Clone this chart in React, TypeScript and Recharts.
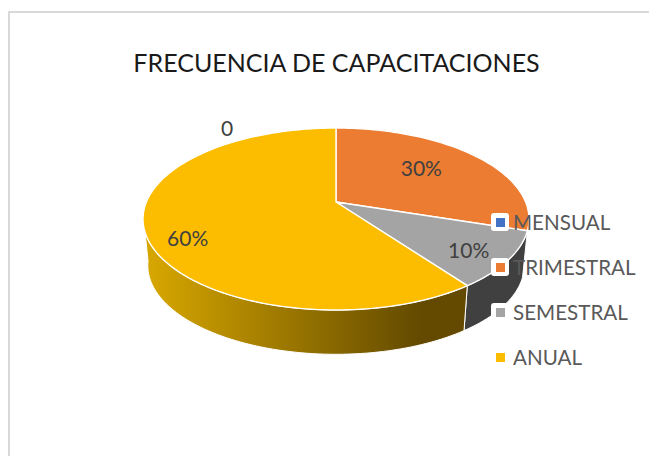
import React from "react";
import { PieChart, Pie, Legend } from "recharts";

const categories = ["MENSUAL", "TRIMESTRAL", "SEMESTRAL", "ANUAL"];
const shares = [0, 30, 10, 60];
const topColors = ["#4472C4", "#EC7C31", "#A4A4A4", "#FCBD00"];
const sideColors = ["#2F528F", "#A0521E", "#404040", "url(#anualSide)"];
const chartTitle = "FRECUENCIA DE CAPACITACIONES";

const topRows = categories.map((name, i) => ({ name, value: shares[i], fill: topColors[i] }));
const sideRows = categories.map((name, i) => ({ name, value: shares[i], fill: sideColors[i] }));

const FONT = "Lato, 'Open Sans', sans-serif";
// perspective projection of the pie disc
const RX = 189.6;
const RY = 87.8;
const TILT = 0.187;
const FLOOR_DROP = 47;
const FLOOR_SCALE = 0.975;
const SIDE_FROM = 108;
const SIDE_TO = 262;

const project = (cx: number, cy: number, deg: number, r = 1, k = 1) => {
  const t = (deg * Math.PI) / 180;
  const u = r * Math.sin(t);
  const v = -r * Math.cos(t);
  const d = 1 - TILT * v;
  return [cx + (k * RX * u) / d, cy + (k * RY * v) / d];
};

const arc = (cx: number, cy: number, from: number, to: number, k = 1) => {
  const pts: number[][] = [];
  const n = Math.max(2, Math.ceil(Math.abs(to - from) / 1.5));
  for (let i = 0; i <= n; i++) pts.push(project(cx, cy, from + ((to - from) * i) / n, 1, k));
  return pts;
};

const toPath = (pts: number[][]) =>
  "M" + pts.map((p) => `${p[0].toFixed(2)} ${p[1].toFixed(2)}`).join("L") + "Z";

const TopSlice = (props: any) => {
  const { cx, cy, startAngle, endAngle, fill } = props;
  if (Math.abs(endAngle - startAngle) < 0.01) return <g />;
  const pts = [[cx, cy], ...arc(cx, cy, 90 - startAngle, 90 - endAngle)];
  return <path d={toPath(pts)} fill={fill} stroke="#fff" strokeWidth={1.4} strokeLinejoin="round" />;
};

const SideSlice = (props: any) => {
  const { cx, cy, startAngle, endAngle, fill } = props;
  const from = Math.max(90 - startAngle, SIDE_FROM);
  const to = Math.min(90 - endAngle, SIDE_TO);
  if (to - from < 0.01) return <g />;
  const upper = arc(cx, cy, from, to);
  const lower = arc(cx, cy + FLOOR_DROP, from, to, FLOOR_SCALE).reverse();
  return <path d={toPath([...upper, ...lower])} fill={fill} stroke="#fff" strokeWidth={1} strokeLinejoin="round" />;
};

const labelSpots = [
  { r: 0, dx: -109, dy: -1 },
  { r: 0.6, dx: -1, dy: -5 },
  { r: 0.79, dx: 0, dy: 3 },
  { r: 0.78, dx: -1, dy: 13 },
];

const SliceLabel = (props: any) => {
  const { cx, cy, midAngle, value, index } = props;
  const spot = labelSpots[index];
  const [x, y] = project(cx, cy, 90 - midAngle, spot.r);
  const py = spot.r === 0 ? cy - 74 : y;
  return (
    <text
      x={x + spot.dx}
      y={py + spot.dy}
      textAnchor="middle"
      dominantBaseline="central"
      fontFamily={FONT}
      fontSize={21}
      fill="#404040"
    >
      {value === 0 ? "0" : `${value}%`}
    </text>
  );
};

const LegendBox = () => (
  <div style={{ fontFamily: FONT }}>
    {categories.map((name, i) => (
      <div key={name} style={{ display: "flex", alignItems: "center", height: 45 }}>
        <div
          style={{
            width: 18,
            height: 18,
            background: "#fff",
            borderRadius: 3,
            display: "flex",
            alignItems: "center",
            justifyContent: "center",
            flex: "none",
          }}
        >
          <div style={{ width: 9, height: 9, background: topColors[i] }} />
        </div>
        <span style={{ marginLeft: 4, fontSize: 20.6, color: "#595959", whiteSpace: "nowrap" }}>{name}</span>
      </div>
    ))}
  </div>
);

export default function App() {
  return (
    <div style={{ position: "absolute", left: 0, top: 0, width: 649, height: 456, overflow: "hidden", background: "#fff" }}>
      <div
        style={{
          position: "absolute",
          left: 8,
          top: 11,
          width: 700,
          height: 500,
          border: "2px solid #d9d9d9",
          boxSizing: "border-box",
        }}
      />
      <div style={{ position: "absolute", left: 0, top: 0 }}>
        <PieChart width={649} height={456} margin={{ top: 0, right: 0, bottom: 0, left: 0 }}>
          <defs>
            <linearGradient id="anualSide" gradientUnits="userSpaceOnUse" x1={150} y1={0} x2={420} y2={0}>
              <stop offset="0" stopColor="#D6A600" />
              <stop offset="1" stopColor="#634A00" />
            </linearGradient>
          </defs>
          <text x={336.5} y={61.5} textAnchor="middle" dominantBaseline="central" fontFamily={FONT} fontSize={25} fill="#1a1a1a">
            {chartTitle}
          </text>
          <Pie
            data={sideRows}
            dataKey="value"
            nameKey="name"
            cx={336}
            cy={202}
            outerRadius={100}
            startAngle={90}
            endAngle={-270}
            legendType="none"
            shape={SideSlice}
            label={false}
            labelLine={false}
            isAnimationActive={false}
          />
          <Pie
            data={topRows}
            dataKey="value"
            nameKey="name"
            cx={336}
            cy={202}
            outerRadius={100}
            startAngle={90}
            endAngle={-270}
            shape={TopSlice}
            label={SliceLabel}
            labelLine={false}
            isAnimationActive={false}
          />
          <Legend
            layout="vertical"
            align="right"
            verticalAlign="top"
            content={<LegendBox />}
            wrapperStyle={{ left: 491, top: 199.5, right: "auto", width: 158 }}
          />
        </PieChart>
      </div>
    </div>
  );
}
